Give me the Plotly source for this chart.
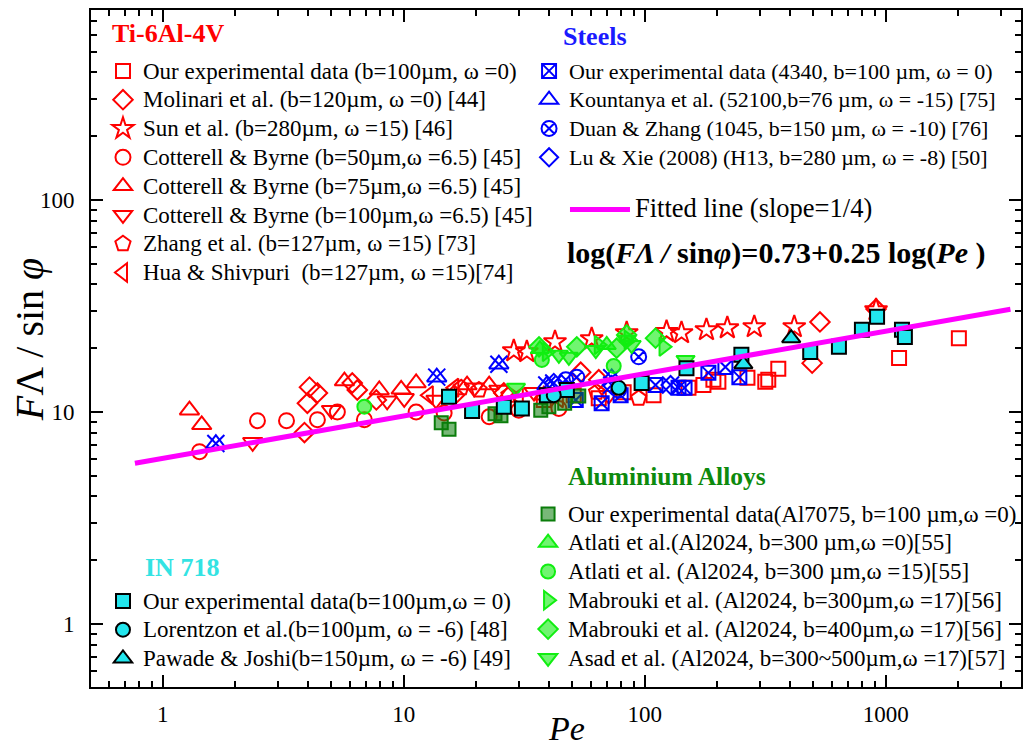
import plotly.graph_objects as go

# ---------------- data (Pe, F*Lambda/sin(phi)) ----------------
# Ti-6Al-4V
ti_our_x = [38.1, 50.7, 64.4, 81.7, 108.7, 151.8, 175.1, 192.6, 202, 266.6, 316.2, 325.3, 358, 1135, 2010]
ti_our_y = [11.4, 12.0, 11.6, 12.4, 12.0, 13.0, 13.4, 14.2, 13.9, 14.5, 13.9, 14.2, 16.0, 18.0, 22.3]
molinari_x = [3.87, 4.06, 4.38, 3.98, 6.11, 6.41, 7.69, 16.2, 26.0, 54.2, 64.4, 494.8, 533, 911]
molinari_y = [8.0, 13.1, 12.3, 11.0, 13.7, 12.7, 11.4, 12.0, 12.3, 15.4, 14.2, 17.0, 26.6, 30.6]
sun_x = [28.6, 32.4, 42.4, 60.2, 84.1, 123.1, 142, 180.2, 220, 284.6, 417, 911]
sun_y = [19.4, 19.2, 21.4, 22.1, 23.6, 23.9, 23.6, 24.4, 24.9, 25.2, 25.2, 30.3]
cb50_x = [1.42, 2.47, 3.26, 4.38, 5.30, 6.86, 11.25, 14.7, 22.6, 30.0, 44.0]
cb50_y = [6.5, 9.1, 9.1, 9.2, 10.0, 9.2, 10.0, 9.9, 9.5, 10.2, 10.4]
cb75_x = [1.29, 1.45, 5.67, 7.91, 9.75, 11.25, 18.3, 22.6, 38.1]
cb75_y = [10.2, 8.7, 14.0, 12.7, 12.8, 13.7, 13.4, 13.4, 12.0]
cb100_x = [2.36, 5.01, 8.53, 10.04, 13.6, 19.6, 24.8, 34.7, 70.8]
cb100_y = [7.2, 10.2, 11.3, 11.6, 11.4, 13.0, 12.7, 12.4, 12.0]
zhang_x = [17.3, 20.5, 27.3, 63.1, 94.3]
zhang_y = [13.0, 12.7, 12.0, 12.4, 11.6]
hua_x = [12.7, 16.2, 30.0, 44.0]
hua_y = [12.0, 13.0, 11.8, 11.6]

# Steels
st_our_x = [51.7, 66.2, 79.4, 110.8, 138, 146.2, 183.6, 216, 246.8]
st_our_y = [11.4, 11.0, 12.0, 13.4, 13.0, 13.0, 15.3, 16.3, 14.6]
kount_x = [1.66, 13.7, 24.8, 39.2, 72.9]
kount_y = [7.1, 14.6, 16.8, 13.4, 14.5]
duan_x = [47.0, 52.2, 94.3, 77.9]
duan_y = [14.2, 14.6, 18.2, 12.7]
lu_x = [41.9, 72.9, 127.9]
lu_y = [13.7, 13.4, 13.4]

# Aluminium alloys
al_our_x = [14.3, 15.4, 23.9, 25.3, 37.0, 40.0, 46.5, 53.2]
al_our_y = [8.9, 8.3, 9.8, 9.6, 10.2, 10.6, 11.0, 11.9]
atl0_x = [36.7, 69.5]
atl0_y = [19.8, 20.7]
atl15_x = [6.86, 37.4, 74.3]
atl15_y = [10.6, 17.6, 16.5]
mab300_x = [39.2, 64.4, 85.7, 119.6]
mab300_y = [19.2, 20.7, 21.9, 20.3]
mab400_x = [36.4, 52.2, 76.4, 84.1, 110.8]
mab400_y = [20.3, 20.3, 20.0, 23.1, 22.3]
asad_x = [29.2, 44.0, 48.4, 62.6, 84.1, 88.2, 147.6]
asad_y = [13.0, 18.6, 18.2, 19.6, 21.9, 20.7, 17.6]

# IN 718
in_our_x = [15.4, 19.2, 26.0, 30.9, 39.2, 47.5, 97.0, 148.9, 251.6, 485.7, 639, 796, 920, 1167, 1200]
in_our_y = [11.8, 10.1, 10.6, 10.4, 12.0, 12.7, 13.7, 16.1, 18.6, 19.2, 20.3, 24.4, 28.1, 24.4, 22.6]
lor_x = [41.9, 77.9]
lor_y = [12.0, 13.0]
paw_x = [256.4, 405]
paw_y = [16.8, 22.3]

# fitted line end points
fit_x = [0.766, 3290]
fit_y = [5.73, 30.5]

x_tickvals = [1, 10, 100, 1000]
x_ticktext = ["1", "10", "100", "1000"]
y_tickvals = [1, 10, 100]
y_ticktext = ["1", "10", "100"]
x_minor = [m * d for d in [0.1, 1, 10, 100, 1000] for m in range(2, 10) if 0.5 < m * d < 3640]
y_minor = [m * d for d in [0.1, 1, 10, 100] for m in range(2, 10) if 0.5 < m * d < 787]

# ---------------- figure ----------------
W, H = 1024, 751
L, R, T, B = 91, 1, 10, 64
PW, PH = W - L - R, H - T - B


def px(xp):
    return (xp - L) / PW


def py(yp):
    return 1 - (yp - T) / PH


FONT = "Liberation Serif"
RED = "#ff0000"
BLUE = "#0000ff"
CYAN = "#22e6ee"
DGREEN = "#0a7d0a"
LGREEN = "#11ee11"
LEG_FS = 23

fig = go.Figure()
counter = [0]


def lab(s, fs=LEG_FS):
    return '<span style="font-size:%spx">%s</span>' % (fs, s)


def add(x, y, name, legend, symbol, size, color, line_color=None, line_width=2, showlegend=True, fs=LEG_FS):
    counter[0] += 1
    fig.add_trace(go.Scatter(
        x=x, y=y, mode="markers", name=lab(name, fs), legend=legend,
        legendgroup="g%d" % counter[0], showlegend=showlegend, hoverinfo="x+y",
        marker=dict(symbol=symbol, size=size, color=color,
                    line=dict(color=line_color if line_color else color, width=line_width)),
    ))


# Ti
add(ti_our_x, ti_our_y, "Our experimental data (b=100µm, ω =0)", "legend", "square-open", 14, RED)
add(molinari_x, molinari_y, "Molinari et al. (b=120µm, ω =0) [44]", "legend", "diamond-open", 15, RED)
add(sun_x, sun_y, "Sun et al. (b=280µm, ω =15) [46]", "legend", "star-open", 17, RED)
add(cb50_x, cb50_y, "Cotterell & Byrne (b=50µm,ω =6.5) [45]", "legend", "circle-open", 15, RED)
add(cb75_x, cb75_y, "Cotterell & Byrne (b=75µm,ω =6.5) [45]", "legend", "triangle-up-open", 17, RED)
add(cb100_x, cb100_y, "Cotterell & Byrne (b=100µm,ω =6.5) [45]", "legend", "triangle-down-open", 17, RED)
add(zhang_x, zhang_y, "Zhang et al. (b=127µm, ω =15) [73]", "legend", "pentagon-open", 16, RED)
add(hua_x, hua_y, "Hua & Shivpuri  (b=127µm, ω =15)[74]", "legend", "triangle-left-open", 16, RED)

# Steels
add(st_our_x, st_our_y, "Our experimental data (4340, b=100 µm, ω = 0)", "legend2", "square-x-open", 14, BLUE, fs=22)
add(kount_x, kount_y, "Kountanya et al. (52100,b=76 µm, ω = -15) [75]", "legend2", "triangle-up-open", 17, BLUE, fs=22)
add(kount_x, kount_y, "k-x", "legend2", "x-thin-open", 17, BLUE, showlegend=False)
add(duan_x, duan_y, "Duan & Zhang (1045, b=150 µm, ω = -10) [76]", "legend2", "circle-x-open", 15, BLUE, fs=22)
add(lu_x, lu_y, "Lu & Xie (2008) (H13, b=280 µm, ω = -8) [50]", "legend2", "diamond-open", 14, BLUE, fs=22)
add(lu_x, lu_y, "l-x", "legend2", "x-thin-open", 17, BLUE, showlegend=False)

# Aluminium
AL_DFILL = "rgba(10,125,10,0.55)"
AL_LFILL = "rgba(17,238,17,0.6)"
add(al_our_x, al_our_y, "Our experimental data(Al7075, b=100 µm,ω =0)", "legend5", "square", 13, AL_DFILL, DGREEN)
add(atl0_x, atl0_y, "Atlati et al.(Al2024, b=300 µm,ω =0)[55]", "legend5", "triangle-up", 16, AL_LFILL, LGREEN)
add(atl15_x, atl15_y, "Atlati et al. (Al2024, b=300 µm,ω =15)[55]", "legend5", "circle", 14, AL_LFILL, LGREEN)
add(mab300_x, mab300_y, "Mabrouki et al. (Al2024, b=300µm,ω =17)[56]", "legend5", "triangle-right", 16, AL_LFILL, LGREEN)
add(mab400_x, mab400_y, "Mabrouki et al. (Al2024, b=400µm,ω =17)[56]", "legend5", "diamond", 15, AL_LFILL, LGREEN)
add(asad_x, asad_y, "Asad et al. (Al2024, b=300~500µm,ω =17)[57]", "legend5", "triangle-down", 16, AL_LFILL, LGREEN)

# IN 718
add(in_our_x, in_our_y, "Our experimental data(b=100µm,ω = 0)", "legend4", "square", 14, CYAN, "black")
add(lor_x, lor_y, "Lorentzon et al.(b=100µm, ω = -6) [48]", "legend4", "circle", 14, CYAN, "black")
add(paw_x, paw_y, "Pawade & Joshi(b=150µm, ω = -6) [49]", "legend4", "triangle-up", 16, CYAN, "black")

# fitted line
fig.add_trace(go.Scatter(x=fit_x, y=fit_y, mode="lines", name=lab("Fitted line (slope=1/4)", 26.5),
                         legend="legend3", line=dict(color="#ff00ff", width=5)))
# carrier trace for the minor-tick overlay axes
fig.add_trace(go.Scatter(x=fit_x, y=fit_y, mode="lines", xaxis="x2", yaxis="y2", opacity=0,
                         showlegend=False, hoverinfo="skip", line=dict(width=0)))

leg_common = dict(bgcolor="rgba(0,0,0,0)", borderwidth=0, xanchor="left", yanchor="top",
                  font=dict(family=FONT, size=19.85, color="black"), tracegroupgap=0,
                  itemsizing="trace")
fig.update_layout(
    width=W, height=H,
    margin=dict(l=L, r=R, t=T, b=B),
    plot_bgcolor="white", paper_bgcolor="white",
    font=dict(family=FONT, size=22, color="black"),
    legend=dict(x=px(103), y=py(51.5), **leg_common),
    legend2=dict(x=px(530), y=py(51.5), **leg_common),
    legend3=dict(x=px(566), y=py(190), itemwidth=60, **leg_common),
    legend4=dict(x=px(103), y=py(581.5), **leg_common),
    legend5=dict(x=px(529), y=py(494.5), **leg_common),
)

XR = [-0.298, 3.561]
YR = [-0.297, 2.896]
major = dict(type="log", showline=True, linewidth=2, linecolor="black", mirror="ticks",
             ticks="inside", ticklen=12, tickwidth=2, tickcolor="black",
             showgrid=False, zeroline=False,
             tickfont=dict(family=FONT, size=23, color="black"))
fig.update_layout(
    xaxis=dict(range=XR, tickvals=x_tickvals, ticktext=x_ticktext, ticklabelstandoff=5, **major),
    yaxis=dict(range=YR, tickvals=y_tickvals, ticktext=y_ticktext, ticklabelstandoff=10, **major),
    xaxis2=dict(type="log", range=XR, overlaying="x", side="bottom", tickvals=x_minor,
                ticktext=[""] * len(x_minor), ticks="inside", ticklen=6, tickwidth=2,
                tickcolor="black", mirror="ticks", showline=True, linewidth=2, linecolor="black",
                showgrid=False, zeroline=False),
    yaxis2=dict(type="log", range=YR, overlaying="y", side="left", tickvals=y_minor,
                ticktext=[""] * len(y_minor), ticks="inside", ticklen=6, tickwidth=2,
                tickcolor="black", mirror="ticks", showline=True, linewidth=2, linecolor="black",
                showgrid=False, zeroline=False),
)

ann = []


def text(xp, yp, s, size, color="black", xanchor="left", textangle=0):
    ann.append(dict(x=px(xp), y=py(yp), xref="paper", yref="paper", text=s, showarrow=False,
                    xanchor=xanchor, yanchor="middle", textangle=textangle,
                    font=dict(family=FONT, size=size, color=color)))


text(110, 33, "<b>Ti-6Al-4V</b>", 26, RED)
text(562, 36, "<b>Steels</b>", 26, "#1a1aff")
text(143, 567, "<b>IN 718</b>", 26, "#33e3e3")
text(567, 477, "<b>Aluminium Alloys</b>", 25.5, "#0d8a0d")
text(566, 253, "<b>log(<i>FΛ / </i>sin<i>φ</i>)=0.73+0.25 log(<i>Pe</i> )</b>", 30)
text(568, 729, "<i>Pe</i>", 34, xanchor="center")
text(29, 340, "<i>F</i>Λ / sin <i>φ</i>", 40, xanchor="center", textangle=-90)
fig.update_layout(annotations=ann)

fig.write_html("out.html")
